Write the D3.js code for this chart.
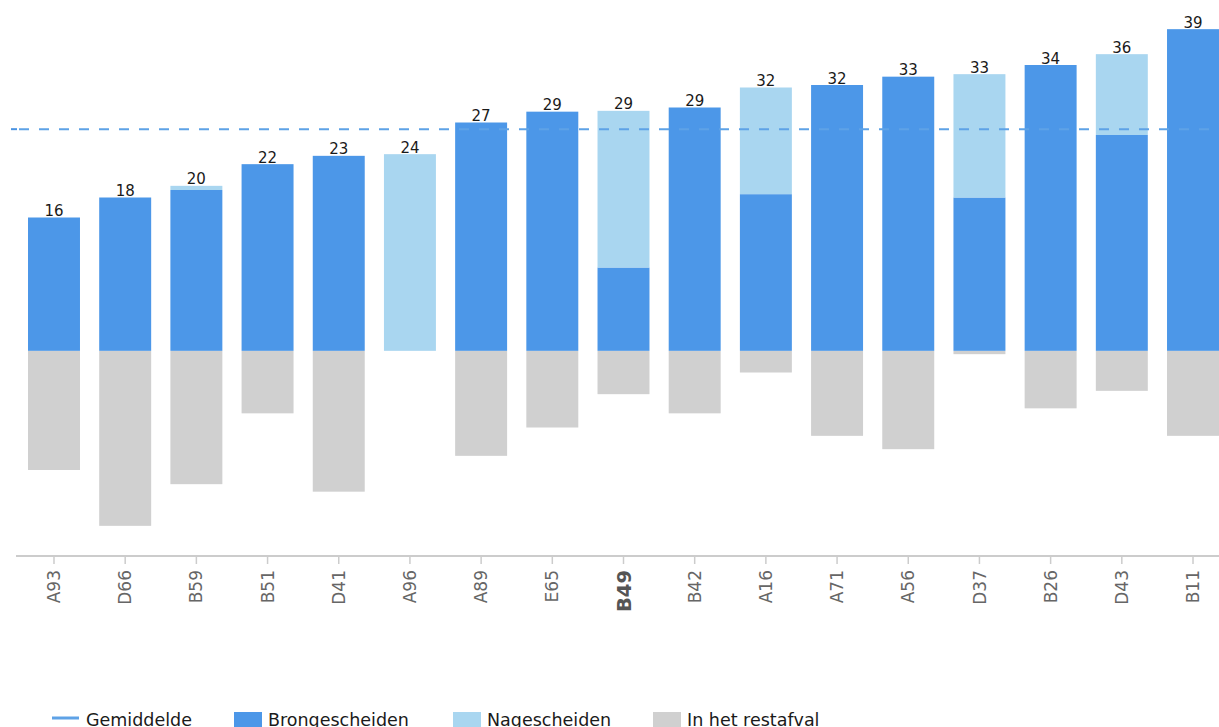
<!DOCTYPE html>
<html>
<head>
<meta charset="utf-8">
<script src="https://cdn.jsdelivr.net/npm/d3@7/dist/d3.min.js"></script>
<style>
  html, body { margin: 0; padding: 0; background: #fff; overflow: hidden; }
  svg { display: block; font-family: "DejaVu Sans", Verdana, sans-serif; }
</style>
</head>
<body>
<svg id="chart" width="1219" height="727"></svg>
<script>
// Gemeenten, gesorteerd op totaal gescheiden (kg per inwoner)
const categories = ["A93","D66","B59","B51","D41","A96","A89","E65","B49","B42","A16","A71","A56","D37","B26","D43","B11"];
const brongescheiden = [16.0, 18.4, 19.3, 22.4, 23.4, 0, 27.4, 28.7, 10.0, 29.2, 18.8, 31.9, 32.9, 18.4, 34.3, 25.9, 38.6];
const nagescheiden   = [0, 0, 0.5, 0, 0, 23.6, 0, 0, 18.8, 0, 12.8, 0, 0, 14.8, 0, 9.7, 0];
const restafval      = [14.3, 21.0, 16.0, 7.5, 16.9, 0, 12.6, 9.2, 5.2, 7.5, 2.6, 10.2, 11.8, 0.4, 6.9, 4.8, 10.2];
const gemiddelde = 26.6;
const highlighted = "B49";
const legendLabels = ["Gemiddelde", "Brongescheiden", "Nagescheiden", "In het restafval"];

const colors = { bron: "#4c97e8", nage: "#a9d6f0", rest: "#d0d0d0", avg: "#5ea2e6" };

const svg = d3.select("#chart");
const W = 1219;

const x = d3.scaleBand()
  .domain(categories)
  .range([18.4, 1228.6])
  .paddingInner(0.27)
  .paddingOuter(0.135);

const y = d3.scaleLinear()
  .domain([-24.5, 42.1])
  .range([555, 0]);

const rows = categories.map((c, i) => ({
  cat: c,
  bron: brongescheiden[i],
  nage: nagescheiden[i],
  rest: restafval[i],
  total: brongescheiden[i] + nagescheiden[i]
}));

const bars = svg.append("g");

// In het restafval (below zero)
bars.selectAll("rect.rest").data(rows).join("rect")
  .attr("class", "rest")
  .attr("x", d => x(d.cat))
  .attr("width", x.bandwidth())
  .attr("y", y(0))
  .attr("height", d => y(-d.rest) - y(0))
  .attr("fill", colors.rest);

// Brongescheiden
bars.selectAll("rect.bron").data(rows).join("rect")
  .attr("class", "bron")
  .attr("x", d => x(d.cat))
  .attr("width", x.bandwidth())
  .attr("y", d => y(d.bron))
  .attr("height", d => y(0) - y(d.bron))
  .attr("fill", colors.bron);

// Nagescheiden, stacked on top
bars.selectAll("rect.nage").data(rows).join("rect")
  .attr("class", "nage")
  .attr("x", d => x(d.cat))
  .attr("width", x.bandwidth())
  .attr("y", d => y(d.total))
  .attr("height", d => y(d.bron) - y(d.total))
  .attr("fill", colors.nage);

// Total labels
svg.append("g").selectAll("text").data(rows).join("text")
  .attr("x", d => x(d.cat) + x.bandwidth() / 2)
  .attr("y", d => y(d.total) - 1.5)
  .attr("text-anchor", "middle")
  .attr("font-size", 15)
  .attr("fill", "#1a1a1a")
  .text(d => Math.round(d.total));

// Average line
const avgY = y(gemiddelde);
svg.append("line")
  .attr("x1", x.range()[0] - 7.4).attr("x2", x.range()[0] - 1.4)
  .attr("y1", avgY).attr("y2", avgY)
  .attr("stroke", "#4a93e2").attr("stroke-width", 2);
svg.append("line")
  .attr("x1", x.range()[0] + 0.6).attr("x2", W)
  .attr("y1", avgY).attr("y2", avgY)
  .attr("stroke", colors.avg).attr("stroke-width", 2)
  .attr("stroke-dasharray", "10,10");

// X axis
const axisY = 556;
const xAxis = svg.append("g")
  .attr("transform", `translate(0,${axisY})`)
  .call(d3.axisBottom(x).tickSize(8).tickSizeOuter(0));
xAxis.select(".domain")
  .attr("stroke", "#cccccc").attr("stroke-width", 2)
  .attr("d", `M16,0H${W}`);
xAxis.selectAll(".tick line").attr("stroke", "#cccccc").attr("stroke-width", 1.5);
xAxis.selectAll(".tick text")
  .attr("transform", "translate(0,14) rotate(-90)")
  .attr("x", 0).attr("y", 0)
  .attr("dx", 0).attr("dy", "0.36em")
  .attr("text-anchor", "end")
  .attr("font-family", "DejaVu Sans, Verdana, sans-serif")
  .attr("font-size", d => d === highlighted ? 19.5 : 17)
  .attr("font-weight", d => d === highlighted ? "bold" : "normal")
  .attr("fill", d => d === highlighted ? "#555" : "#666");

// Legend
const legend = svg.append("g").attr("font-size", 17.5).attr("fill", "#1a1a1a");
const legendX = [52, 234, 453, 653];
const legendFill = [colors.avg, colors.bron, colors.nage, colors.rest];
legendLabels.forEach((lab, i) => {
  const g = legend.append("g").attr("transform", `translate(${legendX[i]},0)`);
  if (i === 0) {
    g.append("line").attr("x1", 0).attr("x2", 27).attr("y1", 718).attr("y2", 718)
      .attr("stroke", legendFill[i]).attr("stroke-width", 3);
    g.append("text").attr("x", 34).attr("y", 726).text(lab);
  } else {
    g.append("rect").attr("x", 0).attr("y", 712).attr("width", 28).attr("height", 17)
      .attr("fill", legendFill[i]);
    g.append("text").attr("x", 34).attr("y", 726).text(lab);
  }
});
</script>
</body>
</html>
